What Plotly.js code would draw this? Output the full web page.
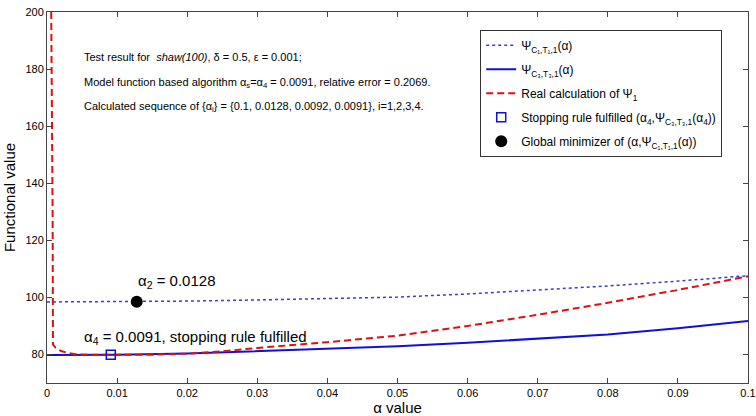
<!DOCTYPE html>
<html>
<head>
<meta charset="utf-8">
<script src="https://cdn.plot.ly/plotly-3.0.1.min.js"></script>
<style>html,body{margin:0;padding:0;background:#fff;}#chart{width:756px;height:416px;}</style>
</head>
<body>
<div id="chart"></div>
<script>
// Ψ_{C1,T1,1}(α) - dotted blue
const alphaModel1 = [0, 0.01, 0.02, 0.03, 0.04, 0.05, 0.06, 0.07, 0.08, 0.09, 0.1];
const psiModel1   = [98.4, 98.5, 98.7, 99.1, 99.5, 100.1, 101.2, 102.6, 104.0, 105.7, 107.6];
// Ψ_{C3,T3,1}(α) - solid blue
const alphaModel3 = [0, 0.01, 0.02, 0.03, 0.04, 0.05, 0.06, 0.07, 0.08, 0.09, 0.1];
const psiModel3   = [79.8, 79.9, 80.3, 81.1, 81.9, 82.9, 84.1, 85.5, 87.0, 89.2, 91.7];
// Real calculation of Ψ_1 - red dashed
const alphaReal = [0.0006, 0.0007, 0.0008, 0.00085, 0.0012, 0.002, 0.003, 0.004, 0.006, 0.01, 0.015, 0.02, 0.025, 0.03, 0.04, 0.05, 0.06, 0.07, 0.08, 0.09, 0.1];
const psiReal   = [200, 170, 130, 83.5, 82.4, 81.2, 80.5, 80.1, 79.9, 79.9, 79.9, 80.3, 81.1, 82.3, 84.3, 86.6, 90.0, 93.9, 98.1, 102.6, 107.4];
// Stopping rule point and global minimizer
const stopAlpha = [0.0091], stopPsi = [79.9];
const minAlpha  = [0.0128], minPsi  = [98.5];
// Ticks
const xTicks = [0, 0.01, 0.02, 0.03, 0.04, 0.05, 0.06, 0.07, 0.08, 0.09, 0.1];
const xTickText = ["0", "0.01", "0.02", "0.03", "0.04", "0.05", "0.06", "0.07", "0.08", "0.09", "0.1"];
const yTicks = [80, 100, 120, 140, 160, 180, 200];

const traces = [
  {x: alphaModel1, y: psiModel1, mode: 'lines', name: 'Ψ<sub>C₁,T₁,1</sub>(α)', legendgroup: 'a',
   line: {color: '#3b3bd6', width: 1.5, dash: 'dot'}},
  {x: alphaModel3, y: psiModel3, mode: 'lines', name: 'Ψ<sub>C₃,T₃,1</sub>(α)', legendgroup: 'b',
   line: {color: '#1010d8', width: 2, dash: 'solid'}},
  {x: alphaReal, y: psiReal, mode: 'lines', name: 'Real calculation of Ψ<sub>1</sub>', legendgroup: 'c',
   line: {color: '#e01010', width: 2, dash: '7px,4px'}},
  {x: stopAlpha, y: stopPsi, mode: 'markers', name: 'Stopping rule fulfilled (α<sub>4</sub>,Ψ<sub>C₃,T₃,1</sub>(α<sub>4</sub>))', legendgroup: 'd',
   marker: {symbol: 'square-open', size: 9, color: '#1010d8', line: {width: 1.5, color: '#1010d8'}}},
  {x: minAlpha, y: minPsi, mode: 'markers', name: 'Global minimizer of (α,Ψ<sub>C₁,T₁,1</sub>(α))', legendgroup: 'e',
   marker: {symbol: 'circle', size: 12, color: '#000'}}
];

const fontFam = 'Liberation Sans, Arial, sans-serif';
const layout = {
  width: 756, height: 416,
  margin: {l: 47, r: 8, t: 12, b: 33},
  paper_bgcolor: '#fff', plot_bgcolor: '#fff',
  font: {family: fontFam, size: 11, color: '#000'},
  showlegend: true,
  legend: {x: 0.618, y: 0.952, xanchor: 'left', yanchor: 'top',
           bgcolor: '#fff', bordercolor: '#333', borderwidth: 1, itemwidth: 30,
           font: {family: fontFam, size: 12, color: '#000'}, tracegroupgap: 5},
  xaxis: {range: [-1e-7, 0.1000001], tickvals: xTicks, ticktext: xTickText,
          ticks: 'inside', ticklen: 5, tickcolor: '#444', mirror: 'allticks',
          showline: true, linecolor: '#444', linewidth: 1, showgrid: false, zeroline: false,
          ticklabeloverflow: 'allow',
          tickfont: {size: 11, family: fontFam},
          title: {text: 'α value', font: {size: 15, family: fontFam}, standoff: 4}},
  yaxis: {range: [70, 200.0001], tickvals: yTicks,
          ticks: 'inside', ticklen: 5, tickcolor: '#444', mirror: 'allticks',
          showline: true, linecolor: '#444', linewidth: 1, showgrid: false, zeroline: false,
          ticklabeloverflow: 'allow',
          tickfont: {size: 11, family: fontFam},
          title: {text: 'Functional value', font: {size: 15, family: fontFam}, standoff: 6}},
  annotations: [
    {x: 0.005, y: 184.3, xref: 'x', yref: 'y', xanchor: 'left', yanchor: 'middle', showarrow: false,
     text: 'Test result for  <i>shaw(100)</i>, δ = 0.5, ε = 0.001;', font: {size: 11}},
    {x: 0.005, y: 175.2, xref: 'x', yref: 'y', xanchor: 'left', yanchor: 'middle', showarrow: false,
     text: 'Model function based algorithm α<sub>s</sub>=α<sub>4</sub> = 0.0091, relative error = 0.2069.', font: {size: 11}},
    {x: 0.005, y: 166.8, xref: 'x', yref: 'y', xanchor: 'left', yanchor: 'middle', showarrow: false,
     text: 'Calculated sequence of {α<sub>i</sub>} = {0.1, 0.0128, 0.0092, 0.0091}, i=1,2,3,4.', font: {size: 11}},
    {x: 0.0127, y: 105.5, xref: 'x', yref: 'y', xanchor: 'left', yanchor: 'middle', showarrow: false,
     text: 'α<sub>2</sub> = 0.0128', font: {size: 15}},
    {x: 0.0050, y: 86, xref: 'x', yref: 'y', xanchor: 'left', yanchor: 'middle', showarrow: false,
     text: 'α<sub>4</sub> = 0.0091, stopping rule fulfilled', font: {size: 15}}
  ]
};

Plotly.newPlot('chart', traces, layout, {displayModeBar: false, staticPlot: true});
</script>
</body>
</html>
